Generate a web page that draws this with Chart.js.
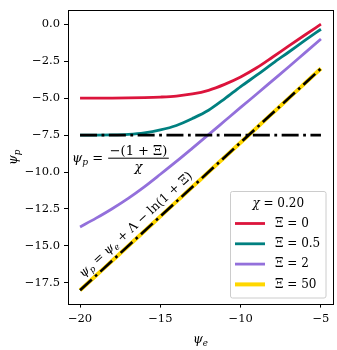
<!DOCTYPE html>
<html>
<head>
<meta charset="utf-8">
<script src="https://cdn.jsdelivr.net/npm/chart.js@4.4.1/dist/chart.umd.min.js"></script>
<style>
  html, body { margin: 0; padding: 0; background: #fff; }
  #wrap { width: 337px; height: 350px; }
</style>
</head>
<body>
<div id="wrap"><canvas id="chart-0" width="337" height="350"></canvas></div>
<script>
// values
const psiE = [-20, -19, -18, -17, -16, -15, -14, -13, -12, -11, -10, -9, -8, -7, -6, -5];
const psiP_xi0 = [-5.0, -5.0, -5.0, -4.99, -4.97, -4.93, -4.86, -4.72, -4.47, -4.07, -3.57, -2.95, -2.22, -1.47, -0.73, 0.0];
const psiP_xi05 = [-7.5, -7.5, -7.49, -7.45, -7.35, -7.15, -6.85, -6.38, -5.82, -5.05, -4.22, -3.45, -2.65, -1.88, -1.1, -0.34];
const psiP_xi2 = [-13.72, -13.12, -12.48, -11.78, -11.0, -10.15, -9.28, -8.38, -7.47, -6.55, -5.63, -4.72, -3.8, -2.88, -1.94, -1.0];
const psiP_xi50 = [-18, -17, -16, -15, -14, -13, -12, -11, -10, -9, -8, -7, -6, -5, -4, -3];

const xiLabels = ['0', '0.5', '2', '50'];
const lineColors = ['#dc143c', '#008080', '#9370db', '#ffd700'];
const chiLabel = '0.20';

// black dash-dot guides
const flatX = [-20, -5];
const flatY = [-7.5, -7.5];
const asymX = [-20, -5];
const asymY = [-18, -3];

const xTicks = [-20, -15, -10, -5];
const xTickLabels = ['\u221220', '\u221215', '\u221210', '\u22125'];
const yTicks = [0, -2.5, -5, -7.5, -10, -12.5, -15, -17.5];
const yTickLabels = ['0.0', '\u22122.5', '\u22125.0', '\u22127.5', '\u221210.0', '\u221212.5', '\u221215.0', '\u221217.5'];

const SERIF = '"DejaVu Serif"';

function pts(xs, ys) {
    return xs.map((v, i) => ({x: v, y: ys[i]}));
}

const curves = [psiP_xi0, psiP_xi05, psiP_xi2, psiP_xi50];
const datasets = [];

datasets.push({
    label: 'flat', data: pts(flatX, flatY), borderColor: '#000', borderWidth: 2.8,
    borderDash: [17, 4.5, 2.8, 4.5], pointRadius: 0, order: 0
});
datasets.push({
    label: 'asym', data: pts(asymX, asymY), borderColor: '#000', borderWidth: 2.6,
    borderDash: [16, 4.5, 2.6, 4.5], pointRadius: 0, order: 0
});
curves.forEach((c, i) => {
    datasets.push({
        label: xiLabels[i],
        data: pts(psiE, c),
        borderColor: lineColors[i],
        borderWidth: i == 3 ? 4 : 2.8,
        cubicInterpolationMode: 'monotone',
        pointRadius: 0,
        order: 1
    });
});

// draw a run of math-ish text, returns its width
function mathText(ctx, runs, x, y, size, dry) {
    let cx = x;
    runs.forEach(r => {
        const s = r.sub ? size * 0.7 : size;
        ctx.font = (r.it ? 'italic ' : '') + s + 'px ' + SERIF;
        if (!dry) ctx.fillText(r.t, cx, y + (r.sub ? size * 0.22 : 0));
        cx += ctx.measureText(r.t).width;
    });
    return cx - x;
}

const overlay = {
    id: 'overlay',
    afterDraw(chart) {
        const ctx = chart.ctx;
        const a = chart.chartArea;
        const xs = chart.scales.x, ys = chart.scales.y;
        ctx.save();
        ctx.strokeStyle = '#000';
        ctx.lineWidth = 1;
        const l = Math.round(a.left) + 0.5, r = Math.round(a.right) + 0.5;
        const t = Math.round(a.top) - 0.5, b = Math.round(a.bottom) + 0.5;
        ctx.strokeRect(l, t, r - l, b - t);

        ctx.fillStyle = '#000';
        ctx.textAlign = 'left';
        ctx.textBaseline = 'alphabetic';

        // axis titles
        const xt = [{t: '\u03c8', it: true}, {t: 'e', it: true, sub: true}];
        let w = mathText(ctx, xt, 0, 0, 12.5, true);
        mathText(ctx, xt, (a.left + a.right) / 2 - w / 2, 343, 12.5);
        const yt = [{t: '\u03c8', it: true}, {t: 'p', it: true, sub: true}];
        ctx.save();
        ctx.translate(17, (a.top + a.bottom) / 2);
        ctx.rotate(-Math.PI / 2);
        w = mathText(ctx, yt, 0, 0, 12.5, true);
        mathText(ctx, yt, -w / 2, 0, 12.5);
        ctx.restore();

        // psi_p = -(1+Xi)/chi
        const fx = xs.getPixelForValue(-20.5);
        const fy = ys.getPixelForValue(-9.3);
        w = mathText(ctx, [{t: '\u03c8', it: true}, {t: 'p', it: true, sub: true}, {t: ' = '}], fx, fy, 13);
        const num = [{t: '\u2212(1 + \u039e)'}];
        const nw = mathText(ctx, num, 0, 0, 13, true);
        const barL = fx + w + 1, barW = nw + 3;
        mathText(ctx, num, barL + 1.5, fy - 7, 13);
        ctx.fillRect(barL, fy - 4, barW, 1);
        const dw = mathText(ctx, [{t: '\u03c7', it: true}], 0, 0, 13, true);
        mathText(ctx, [{t: '\u03c7', it: true}], barL + barW / 2 - dw / 2, fy + 9, 13);

        // psi_p = psi_e + Lambda - ln(1+Xi), along the asymptote
        const p0x = xs.getPixelForValue(asymX[0]), p0y = ys.getPixelForValue(asymY[0]);
        const p1x = xs.getPixelForValue(asymX[1]), p1y = ys.getPixelForValue(asymY[1]);
        const ang = Math.atan2(p1y - p0y, p1x - p0x);
        const sx = xs.getPixelForValue(-19.5), sy = ys.getPixelForValue(-17.5);
        ctx.save();
        ctx.translate(sx, sy);
        ctx.rotate(ang);
        mathText(ctx, [
            {t: '\u03c8', it: true}, {t: 'p', it: true, sub: true}, {t: ' = '},
            {t: '\u03c8', it: true}, {t: 'e', it: true, sub: true}, {t: ' + \u039b \u2212 ln(1 + \u039e)'}
        ], 0, -7, 12.3);
        ctx.restore();

        // legend
        const lx = 230.5, ly = 191.5, lw = 95.5, lh = 106.5;
        ctx.fillStyle = 'rgba(255,255,255,0.8)';
        ctx.strokeStyle = '#cccccc';
        ctx.beginPath();
        ctx.roundRect(lx, ly, lw, lh, 2);
        ctx.fill();
        ctx.stroke();
        ctx.fillStyle = '#000';
        ctx.textBaseline = 'middle';
        const tt = [{t: '\u03c7', it: true}, {t: ' = ' + chiLabel}];
        w = mathText(ctx, tt, 0, 0, 12, true);
        mathText(ctx, tt, lx + lw / 2 - w / 2, 203.5, 12);
        xiLabels.forEach((lab, i) => {
            const yy = 223.5 + i * 20.3;
            ctx.strokeStyle = lineColors[i];
            ctx.lineWidth = i == 3 ? 4 : 2.8;
            ctx.beginPath();
            ctx.moveTo(235, yy);
            ctx.lineTo(265, yy);
            ctx.stroke();
            mathText(ctx, [{t: '\u039e = ' + lab}], 275, yy, 12);
        });
        ctx.restore();
    }
};

new Chart(document.getElementById('chart-0'), {
    type: 'line',
    data: {datasets: datasets},
    options: {
        responsive: false,
        animation: false,
        devicePixelRatio: 1,
        layout: {padding: {left: 0, right: 4, top: 4, bottom: 0}},
        plugins: {legend: {display: false}, tooltip: {enabled: false}},
        scales: {
            x: {
                type: 'linear', min: -20.75, max: -4.25,
                afterBuildTicks: s => { s.ticks = xTicks.map(v => ({value: v})); },
                afterFit: s => { s.height = 46.4; },
                ticks: {
                    callback: (v, i) => xTickLabels[i],
                    font: {family: SERIF, size: 11.5}, color: '#000',
                    padding: 5, maxRotation: 0, autoSkip: false
                },
                grid: {drawOnChartArea: false, drawTicks: true, tickLength: 4, color: '#000', lineWidth: 1},
                border: {display: false}
            },
            y: {
                type: 'linear', min: -18.9, max: 0.9,
                afterBuildTicks: s => { s.ticks = yTicks.map(v => ({value: v})); },
                afterFit: s => { s.width = 68; },
                ticks: {
                    callback: (v, i) => yTickLabels[i],
                    font: {family: SERIF, size: 11.5}, color: '#000',
                    padding: 4, autoSkip: false
                },
                grid: {drawOnChartArea: false, drawTicks: true, tickLength: 4, color: '#000', lineWidth: 1},
                border: {display: false}
            }
        }
    },
    plugins: [overlay]
});
</script>
</body>
</html>
